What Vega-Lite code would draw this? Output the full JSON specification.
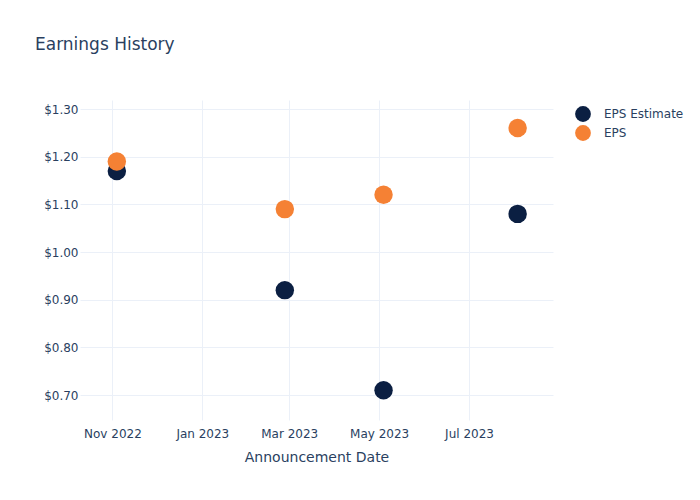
{
  "$schema": "https://vega.github.io/schema/vega-lite/v6.json",
  "width": 473,
  "height": 320,
  "autosize": {"type": "none"},
  "padding": {"left": 80, "top": 100, "right": 147, "bottom": 80},
  "background": "white",
  "view": {"stroke": null},
  "title": {
    "text": "Earnings History",
    "anchor": "start",
    "frame": "group",
    "dx": -45,
    "offset": 46,
    "fontSize": 17,
    "font": "DejaVu Sans",
    "fontWeight": "normal",
    "color": "#2a3f5f"
  },
  "data": {
    "values": [
      {"date": "2022-11-04", "series": "EPS Estimate", "value": 1.17},
      {"date": "2023-02-26", "series": "EPS Estimate", "value": 0.92},
      {"date": "2023-05-04", "series": "EPS Estimate", "value": 0.71},
      {"date": "2023-08-03", "series": "EPS Estimate", "value": 1.08},
      {"date": "2022-11-04", "series": "EPS", "value": 1.19},
      {"date": "2023-02-26", "series": "EPS", "value": 1.09},
      {"date": "2023-05-04", "series": "EPS", "value": 1.12},
      {"date": "2023-08-03", "series": "EPS", "value": 1.26}
    ]
  },
  "mark": {"type": "point", "filled": true, "opacity": 1, "size": 340, "shape": "circle"},
  "encoding": {
    "x": {
      "field": "date",
      "type": "temporal",
      "title": "Announcement Date",
      "scale": {
        "type": "utc",
        "domain": [
          {"year": 2022, "month": 10, "date": 10, "utc": true},
          {"year": 2023, "month": 8, "date": 27, "utc": true}
        ]
      },
      "axis": {
        "values": [
          {"year": 2022, "month": 11, "date": 1, "utc": true},
          {"year": 2023, "month": 1, "date": 1, "utc": true},
          {"year": 2023, "month": 3, "date": 1, "utc": true},
          {"year": 2023, "month": 5, "date": 1, "utc": true},
          {"year": 2023, "month": 7, "date": 1, "utc": true}
        ],
        "format": "%b %Y",
        "domain": false,
        "ticks": false,
        "grid": true,
        "gridColor": "#EBF0F8",
        "gridWidth": 1,
        "labelFont": "DejaVu Sans",
        "labelFontSize": 12,
        "labelColor": "#2a3f5f",
        "labelPadding": 8,
        "titleFont": "DejaVu Sans",
        "titleFontSize": 14,
        "titleFontWeight": "normal",
        "titleColor": "#2a3f5f",
        "titlePadding": 11
      }
    },
    "y": {
      "field": "value",
      "type": "quantitative",
      "title": null,
      "scale": {"domain": [0.6476, 1.3189], "nice": false, "zero": false},
      "axis": {
        "values": [0.7, 0.8, 0.9, 1.0, 1.1, 1.2, 1.3],
        "format": "$.2f",
        "domain": false,
        "ticks": false,
        "grid": true,
        "gridColor": "#EBF0F8",
        "gridWidth": 1,
        "labelFont": "DejaVu Sans",
        "labelFontSize": 12,
        "labelColor": "#2a3f5f",
        "labelPadding": 2
      }
    },
    "color": {
      "field": "series",
      "type": "nominal",
      "sort": ["EPS Estimate", "EPS"],
      "scale": {"domain": ["EPS Estimate", "EPS"], "range": ["#0B1F42", "#F58134"]},
      "legend": {
        "title": null,
        "orient": "none",
        "legendX": 494,
        "legendY": 5,
        "symbolSize": 250,
        "symbolType": "circle",
        "symbolOpacity": 1,
        "labelFont": "DejaVu Sans",
        "labelFontSize": 12,
        "labelColor": "#2a3f5f",
        "rowPadding": 2,
        "labelOffset": 12
      }
    },
    "order": {"field": "series", "sort": "descending"}
  }
}
